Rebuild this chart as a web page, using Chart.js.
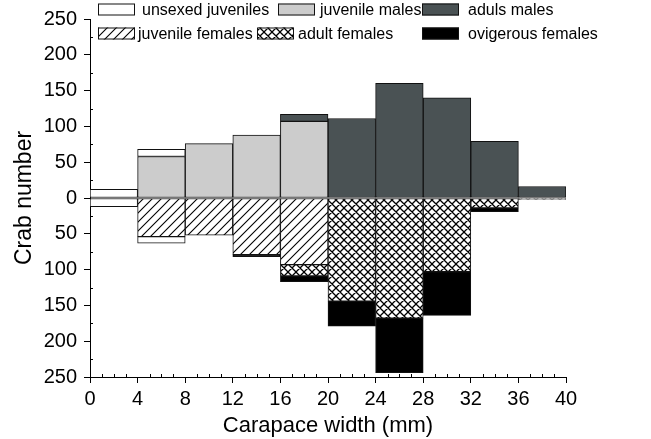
<!DOCTYPE html>
<html>
<head>
<meta charset="utf-8">
<script src="https://cdn.jsdelivr.net/npm/chart.js@4.4.1/dist/chart.umd.min.js"></script>
<style>
  html, body { margin: 0; padding: 0; background: #fff; }
  #crabChart { display: block; }
</style>
</head>
<body>
<canvas id="crabChart" width="651" height="439"></canvas>
<script>
// carapace width classes (4 mm), bar centre of each class
var binMid = [2, 6, 10, 14, 18, 22, 26, 30, 34, 38];
var xTickValues = [0, 4, 8, 12, 16, 20, 24, 28, 32, 36, 40];
var yTickValues = [-250, -200, -150, -100, -50, 0, 50, 100, 150, 200, 250];

// males and unsexed (upper half) go up
var juvenileMales = [null, 58, 76, 88, 107, null, null, null, null, null];
var adultMales = [null, null, null, null, 10, 111, 160, 140, 79, 16];
var unsexedUpper = [12, 10, null, null, null, null, null, null, null, null];
// females and unsexed (lower half) go down
var juvenileFemales = [null, 54, 52, 79, 93, null, null, null, null, null];
var adultFemales = [null, null, null, null, 16, 144, 168, 103, 14, 2];
var ovigerousFemales = [null, null, null, 3, 8, 35, 76, 61, 5, null];
var unsexedLower = [12, 9, null, null, null, null, null, null, null, null];

// hatch patterns
function makePattern(size, draw) {
    var c = document.createElement('canvas');
    c.width = size; c.height = size;
    var g = c.getContext('2d');
    g.fillStyle = '#fff';
    g.fillRect(0, 0, size, size);
    g.strokeStyle = '#000';
    draw(g, size);
    return g.createPattern(c, 'repeat');
}
var diagPattern = makePattern(9, function(g, s) {
    g.lineWidth = 1.1;
    g.beginPath();
    g.moveTo(-1, s + 1); g.lineTo(s + 1, -1);
    g.moveTo(-2, 2); g.lineTo(2, -2);
    g.moveTo(s - 2, s + 2); g.lineTo(s + 2, s - 2);
    g.stroke();
});
var crossPattern = makePattern(8, function(g, s) {
    g.lineWidth = 1.3;
    g.beginPath();
    g.moveTo(-1, s + 1); g.lineTo(s + 1, -1);
    g.moveTo(-1, -1); g.lineTo(s + 1, s + 1);
    g.moveTo(-2, 2); g.lineTo(2, -2);
    g.moveTo(s - 2, s + 2); g.lineTo(s + 2, s - 2);
    g.moveTo(s - 2, -2); g.lineTo(s + 2, 2);
    g.moveTo(-2, s - 2); g.lineTo(2, s + 2);
    g.stroke();
});

function toPoints(values, sign) {
    return binMid.map(function(x, i) {
        return { x: x, y: values[i] === null ? null : sign * values[i] };
    });
}

function barSet(label, values, sign, fill) {
    return {
        label: label,
        data: toPoints(values, sign),
        backgroundColor: fill,
        borderColor: '#111',
        borderWidth: 1,
        borderSkipped: false,
        barPercentage: 1,
        categoryPercentage: 1,
        stack: 'all'
    };
}

var datasets = [
    barSet('juvenile males', juvenileMales, 1, '#cccccc'),
    barSet('aduls males', adultMales, 1, '#4a5254'),
    barSet('unsexed juveniles', unsexedUpper, 1, '#ffffff'),
    barSet('juvenile females', juvenileFemales, -1, diagPattern),
    barSet('adult females', adultFemales, -1, crossPattern),
    barSet('ovigerous females', ovigerousFemales, -1, '#000000'),
    barSet('unsexed juveniles', unsexedLower, -1, '#ffffff')
];

// legend inside the plot, two rows like the original figure
var legendLayout = [
    { ds: 2, row: 0, bx: 98, tx: 142 },
    { ds: 0, row: 0, bx: 278, tx: 320 },
    { ds: 1, row: 0, bx: 422, tx: 468 },
    { ds: 3, row: 1, bx: 98, tx: 138 },
    { ds: 4, row: 1, bx: 257, tx: 298 },
    { ds: 5, row: 1, bx: 422, tx: 468 }
];

var boxLegend = {
    id: 'boxLegend',
    afterDraw: function(chart) {
        var ctx = chart.ctx;
        ctx.save();
        ctx.font = "16px 'Liberation Sans', Arial, sans-serif";
        ctx.textBaseline = 'alphabetic';
        ctx.fillStyle = '#000';
        legendLayout.forEach(function(item) {
            var ds = chart.data.datasets[item.ds];
            var top = 3.5 + item.row * 24;
            ctx.fillStyle = ds.backgroundColor;
            ctx.fillRect(item.bx, top, 37, 12);
            ctx.strokeStyle = '#111';
            ctx.lineWidth = 1;
            ctx.strokeRect(item.bx + 0.5, top + 0.5, 36, 11);
            ctx.fillStyle = '#000';
            ctx.fillText(ds.label, item.tx, top + 11.5);
        });
        ctx.restore();
    }
};

// small inward minor ticks
var minorTicks = {
    id: 'minorTicks',
    afterDraw: function(chart) {
        var ctx = chart.ctx, xs = chart.scales.x, ys = chart.scales.y;
        var area = chart.chartArea;
        ctx.save();
        ctx.strokeStyle = '#000';
        ctx.lineWidth = 1;
        ctx.beginPath();
        for (var v = 1; v < 40; v++) {
            if (v % 4 === 0) continue;
            var px = Math.round(xs.getPixelForValue(v)) + 0.5;
            ctx.moveTo(px, area.bottom);
            ctx.lineTo(px, area.bottom - 3);
        }
        for (var w = -225; w < 250; w += 50) {
            var py = Math.round(ys.getPixelForValue(w)) + 0.5;
            ctx.moveTo(area.left, py);
            ctx.lineTo(area.left + 3, py);
        }
        ctx.stroke();
        ctx.restore();
    }
};

Chart.defaults.font.family = "'Liberation Sans', Arial, sans-serif";
Chart.defaults.color = '#000';

var ctx = document.getElementById('crabChart').getContext('2d');
var crabChart = new Chart(ctx, {
    type: 'bar',
    data: { datasets: datasets },
    options: {
        responsive: false,
        animation: false,
        layout: { padding: { top: 17, right: 85, left: 0, bottom: 0 } },
        plugins: {
            legend: { display: false },
            tooltip: { enabled: false }
        },
        scales: {
            x: {
                type: 'linear',
                min: 0,
                max: 40,
                offset: false,
                stacked: true,
                afterBuildTicks: function(s) {
                    s.ticks = xTickValues.map(function(v) { return { value: v }; });
                },
                afterFit: function(s) { s.height = 62; },
                grid: { drawOnChartArea: false, drawTicks: true, tickLength: 6, color: '#000', offset: false },
                border: { display: true, color: '#000', width: 1 },
                ticks: { font: { size: 20 }, color: '#000', padding: 4, maxRotation: 0, autoSkip: false },
                title: {
                    display: true,
                    text: 'Carapace width (mm)',
                    font: { size: 22 },
                    color: '#000',
                    padding: { top: 0, bottom: 0 }
                }
            },
            y: {
                stacked: true,
                min: -250,
                max: 250,
                afterBuildTicks: function(s) {
                    s.ticks = yTickValues.map(function(v) { return { value: v }; });
                },
                afterFit: function(s) { s.width = 90; },
                grid: { drawOnChartArea: false, drawTicks: true, tickLength: 6, color: '#000' },
                border: { display: true, color: '#000', width: 1 },
                ticks: {
                    font: { size: 20 },
                    color: '#000',
                    padding: 7,
                    callback: function(v) { return Math.abs(v); }
                },
                title: {
                    display: true,
                    text: 'Crab number',
                    font: { size: 23 },
                    color: '#000',
                    padding: { top: 11, bottom: 0 }
                }
            }
        }
    },
    plugins: [minorTicks, boxLegend]
});
</script>
</body>
</html>
